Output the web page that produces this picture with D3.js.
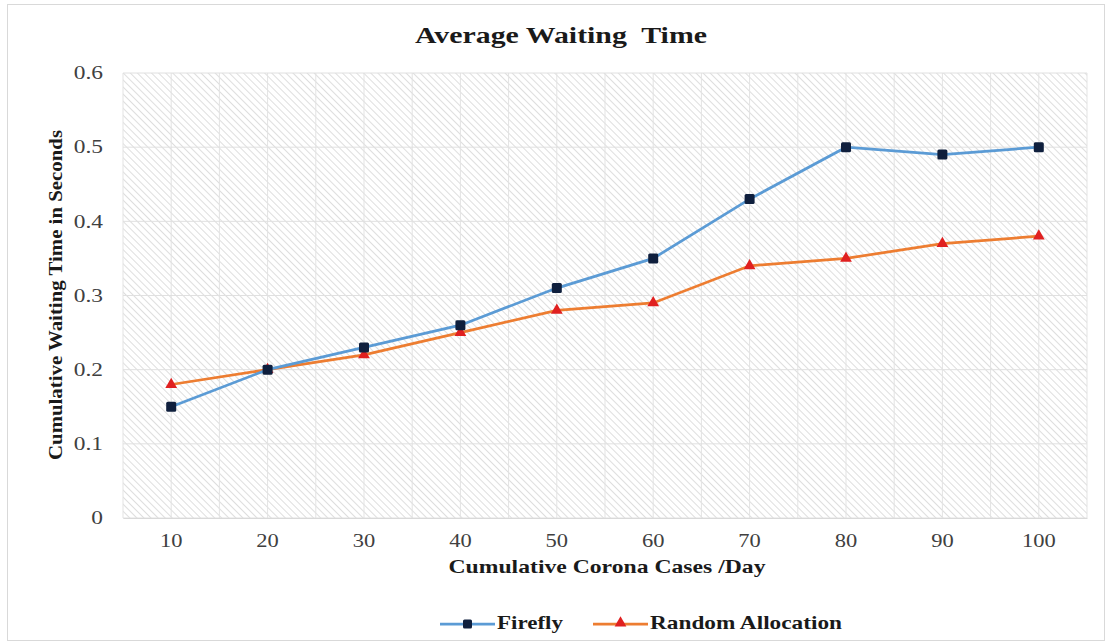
<!DOCTYPE html>
<html><head><meta charset="utf-8">
<script src="https://cdn.jsdelivr.net/npm/d3@7"></script>
<style>body{margin:0;background:#fff}svg{display:block}</style>
</head><body>
<svg id="c" width="1110" height="643"></svg>
<script>
const categories = [10, 20, 30, 40, 50, 60, 70, 80, 90, 100];
const firefly = [0.15, 0.20, 0.23, 0.26, 0.31, 0.35, 0.43, 0.50, 0.49, 0.50];
const randomAlloc = [0.18, 0.20, 0.22, 0.25, 0.28, 0.29, 0.34, 0.35, 0.37, 0.38];
const yTicks = [0, 0.1, 0.2, 0.3, 0.4, 0.5, 0.6];
const seriesNames = ["Firefly", "Random Allocation"];

const svg = d3.select("#c");
const font = "'Liberation Serif','Times New Roman',serif";
const L = 123, R = 1087, T = 73, B = 518;

function stretch(sel, f) {
  sel.each(function () {
    const w = this.getComputedTextLength();
    d3.select(this).attr("textLength", w * f).attr("lengthAdjust", "spacingAndGlyphs");
  });
}
function fitTo(sel, w) {
  sel.attr("textLength", w).attr("lengthAdjust", "spacingAndGlyphs");
}

// outer border
svg.append("rect").attr("x", 7.5).attr("y", 4.5).attr("width", 1097).attr("height", 636)
  .attr("fill", "#fff").attr("stroke", "#d9d9d9");

// hatch pattern
const defs = svg.append("defs");
const pat = defs.append("pattern").attr("id", "hatch").attr("patternUnits", "userSpaceOnUse")
  .attr("width", 5).attr("height", 5).attr("patternTransform", "rotate(-45)");
pat.append("rect").attr("width", 5).attr("height", 5).attr("fill", "#fff");
pat.append("line").attr("x1", 0).attr("y1", 0).attr("x2", 0).attr("y2", 5)
  .attr("stroke", "#d6d6d6").attr("stroke-width", 1.6);

const x = d3.scaleBand().domain(categories).range([L, R]);
const y = d3.scaleLinear().domain([0, 0.6]).range([B, T]);

svg.append("rect").attr("x", L).attr("y", T).attr("width", R - L).attr("height", B - T)
  .attr("fill", "url(#hatch)");

// vertical gridlines at band edges and centers
const vg = [];
categories.forEach(c => { vg.push(x(c)); vg.push(x(c) + x.bandwidth() / 2); });
vg.push(R);
svg.append("g").selectAll("line").data(vg).join("line")
  .attr("x1", d => d).attr("x2", d => d).attr("y1", T).attr("y2", B)
  .attr("stroke", "#e3e3e3").attr("stroke-width", 1);

// horizontal gridlines
svg.append("g").selectAll("line").data(yTicks).join("line")
  .attr("x1", L).attr("x2", R).attr("y1", d => y(d)).attr("y2", d => y(d))
  .attr("stroke", "#e0e0e0").attr("stroke-width", 1);

// y axis
const ya = svg.append("g").attr("transform", `translate(${L},0)`)
  .call(d3.axisLeft(y).tickValues(yTicks).tickFormat(d => d === 0 ? "0" : d3.format(".1f")(d)).tickSize(0).tickPadding(20));
ya.select(".domain").remove();
ya.selectAll("text").style("font-family", font).style("font-size", "18px").attr("fill", "#404040");
stretch(ya.selectAll("text"), 1.3);

// x axis
const xa = svg.append("g").attr("transform", `translate(0,${B})`)
  .call(d3.axisBottom(x).tickSize(0).tickPadding(16));
xa.select(".domain").attr("stroke", "#d9d9d9");
xa.selectAll("text").style("font-family", font).style("font-size", "18px").attr("fill", "#404040");
stretch(xa.selectAll("text"), 1.25);

// title
const title = svg.append("text").attr("x", 561).attr("y", 43).attr("text-anchor", "middle")
  .style("font-family", font).style("font-weight", "bold").style("font-size", "23px").attr("fill", "#1a1a1a")
  .style("white-space", "pre").text("Average Waiting  Time");
fitTo(title, 292);

// axis titles
const xt = svg.append("text").attr("x", 607).attr("y", 573).attr("text-anchor", "middle")
  .style("font-family", font).style("font-weight", "bold").style("font-size", "19px").attr("fill", "#1a1a1a")
  .text("Cumulative Corona Cases /Day");
fitTo(xt, 317);
const yt = svg.append("text").attr("transform", "translate(62,295) rotate(-90)").attr("text-anchor", "middle")
  .style("font-family", font).style("font-weight", "bold").style("font-size", "19px").attr("fill", "#1a1a1a")
  .text("Cumulative Waiting Time in Seconds");
fitTo(yt, 330);

const cx = d => x(d) + x.bandwidth() / 2;
const line = d3.line().x((d, i) => cx(categories[i])).y(d => y(d));

const colors = ["#5b9bd5", "#ed7d31"];
const markerColors = ["#0f1f3d", "#e02020"];

// random allocation
svg.append("path").datum(randomAlloc).attr("d", line).attr("fill", "none")
  .attr("stroke", colors[1]).attr("stroke-width", 2.75);
const tri = d3.symbol().type(d3.symbolTriangle).size(60);
svg.append("g").selectAll("path").data(randomAlloc).join("path")
  .attr("d", tri).attr("transform", (d, i) => `translate(${cx(categories[i])},${y(d)})`)
  .attr("fill", markerColors[1]);

// firefly
svg.append("path").datum(firefly).attr("d", line).attr("fill", "none")
  .attr("stroke", colors[0]).attr("stroke-width", 2.75);
svg.append("g").selectAll("rect").data(firefly).join("rect")
  .attr("x", (d, i) => cx(categories[i]) - 5).attr("y", d => y(d) - 5)
  .attr("width", 10).attr("height", 10).attr("rx", 1.5).attr("fill", markerColors[0]);

// legend
const lg = svg.append("g");
const items = [{x: 440, w: 55, tw: 66}, {x: 593, w: 55, tw: 192}];
items.forEach((it, i) => {
  lg.append("line").attr("x1", it.x).attr("x2", it.x + it.w).attr("y1", 624).attr("y2", 624)
    .attr("stroke", colors[i]).attr("stroke-width", 2.75);
  if (i === 0) {
    lg.append("rect").attr("x", it.x + it.w / 2 - 4.5).attr("y", 619.5).attr("width", 9).attr("height", 9)
      .attr("rx", 1.5).attr("fill", markerColors[0]);
  } else {
    lg.append("path").attr("d", tri).attr("transform", `translate(${it.x + it.w / 2},623)`).attr("fill", markerColors[1]);
  }
  const t = lg.append("text").attr("x", it.x + it.w + 2).attr("y", 629)
    .style("font-family", font).style("font-weight", "bold").style("font-size", "19px").attr("fill", "#1a1a1a")
    .text(seriesNames[i]);
  fitTo(t, it.tw);
});
</script>
</body></html>
